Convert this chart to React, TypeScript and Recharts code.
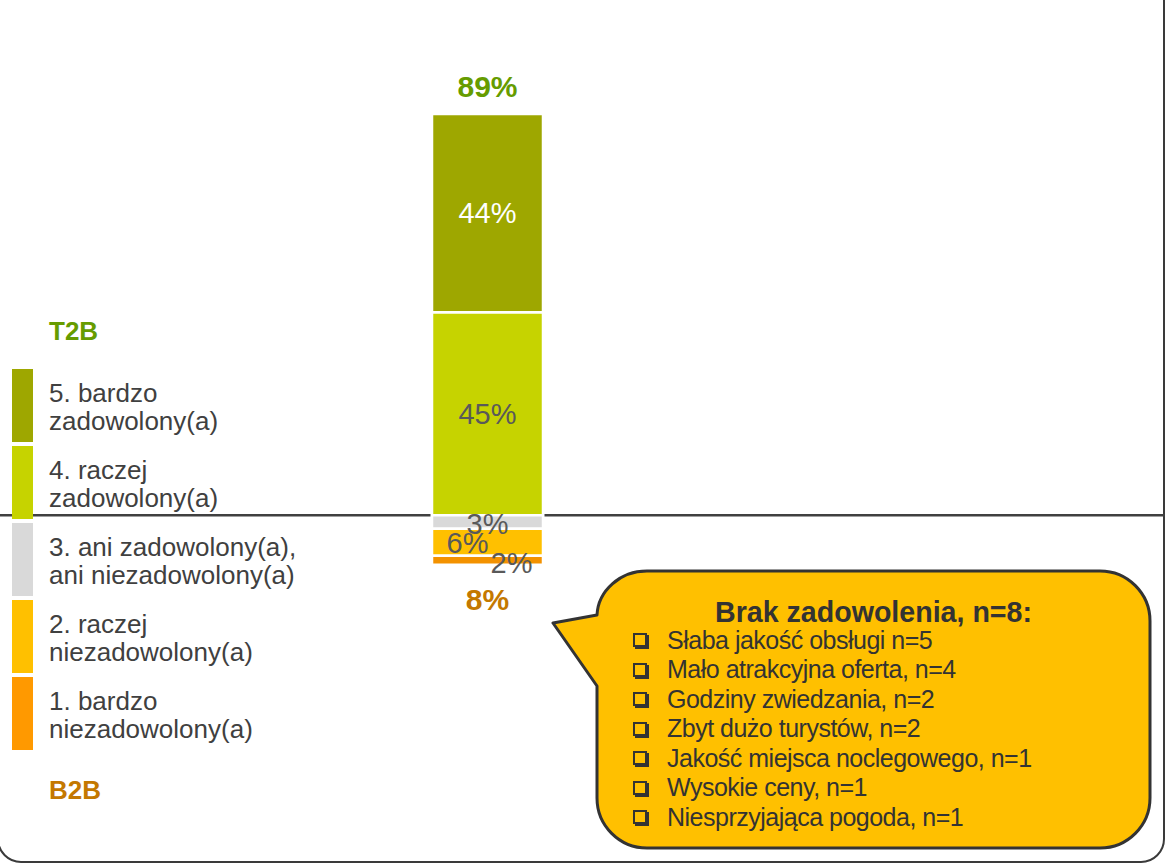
import React from "react";
import { Bar, BarChart, LabelList, Legend, ReferenceLine, XAxis, YAxis } from "recharts";

// single question, answers on a 5-point scale (in %)
const categories = ["Ocena"];
const verySatisfied = [44];
const ratherSatisfied = [45];
const neutral = [3];
const ratherDissatisfied = [6];
const veryDissatisfied = [2];

const levelNames = [
  "5. bardzo\nzadowolony(a)",
  "4. raczej\nzadowolony(a)",
  "3. ani zadowolony(a),\nani niezadowolony(a)",
  "2. raczej\nniezadowolony(a)",
  "1. bardzo\nniezadowolony(a)",
];
const levelColors = ["#9EA700", "#C6D300", "#D9D9D9", "#FFC000", "#FF9900"];

const reasonsTitle = "Brak zadowolenia, n=8:";
const reasons = [
  "Słaba jakość obsługi n=5",
  "Mało atrakcyjna oferta, n=4",
  "Godziny zwiedzania, n=2",
  "Zbyt dużo turystów, n=2",
  "Jakość miejsca noclegowego, n=1",
  "Wysokie ceny, n=1",
  "Niesprzyjająca pogoda, n=1",
];

const FONT = '"Liberation Sans", Arial, sans-serif';
const GREEN = "#669C00";
const BROWN = "#C47800";
const TEXT = "#404040";

const W = 1165;
const H = 864;
const PAD_RIGHT = 190;
const BAR_SIZE = 111;

const data = categories.map((name, i) => ({
  name,
  s5: verySatisfied[i],
  s4: ratherSatisfied[i],
  s3: -neutral[i],
  s2: -ratherDissatisfied[i],
  s1: -veryDissatisfied[i],
}));

function box(props: any) {
  const vb = props.viewBox && props.viewBox.width != null ? props.viewBox : props;
  const x = Number(vb.x);
  const y = Number(vb.y);
  const w = Number(vb.width);
  const h = Number(vb.height);
  return { cx: x + w / 2, top: Math.min(y, y + h), bottom: Math.max(y, y + h) };
}

function segLabel(values: number[], fill: string, dx = 0, dy = 0) {
  return (props: any) => {
    const { cx, top, bottom } = box(props);
    const v = values[props.index ?? 0];
    return (
      <text
        x={cx + dx}
        y={(top + bottom) / 2 + dy}
        textAnchor="middle"
        dominantBaseline="central"
        fill={fill}
        fontSize={29}
        fontFamily={FONT}
      >
        {v}%
      </text>
    );
  };
}

function TopTotal(props: any) {
  const { cx, top } = box(props);
  const i = props.index ?? 0;
  return (
    <text x={cx} y={top - 17} textAnchor="middle" fill={GREEN} fontSize={30} fontWeight="bold" fontFamily={FONT}>
      {verySatisfied[i] + ratherSatisfied[i]}%
    </text>
  );
}

function BottomTotal(props: any) {
  const { cx, bottom } = box(props);
  const i = props.index ?? 0;
  return (
    <text x={cx} y={bottom + 45} textAnchor="middle" fill={BROWN} fontSize={30} fontWeight="bold" fontFamily={FONT}>
      {ratherDissatisfied[i] + veryDissatisfied[i]}%
    </text>
  );
}

// zero line, broken where the bar (with its white outline) sits
function ZeroLine(props: any) {
  const { x1, x2, y1 } = props;
  const cx = (W - PAD_RIGHT) / 2;
  const gl = cx - BAR_SIZE / 2 - 1.5;
  const gr = cx + BAR_SIZE / 2 + 1.5;
  return (
    <g>
      <line x1={Math.min(x1, x2)} x2={gl} y1={y1} y2={y1} stroke="#404040" strokeWidth={2.5} />
      <line x1={gr} x2={Math.max(x1, x2)} y1={y1} y2={y1} stroke="#404040" strokeWidth={2.5} />
    </g>
  );
}

function LevelLegend() {
  return (
    <div style={{ fontFamily: FONT, color: TEXT, textAlign: "left" }}>
      <div style={{ marginLeft: 37, height: 30, lineHeight: "30px", fontSize: 26, fontWeight: "bold", color: GREEN }}>T2B</div>
      <div style={{ height: 23 }} />
      {levelNames.map((n, i) => (
        <div key={n} style={{ display: "flex", alignItems: "center", height: 73, marginBottom: 4 }}>
          <div style={{ width: 21, height: 73, background: levelColors[i], flexShrink: 0 }} />
          <div style={{ marginLeft: 16, marginTop: 3, fontSize: 26, lineHeight: "28px", whiteSpace: "pre-line" }}>{n}</div>
        </div>
      ))}
      <div style={{ height: 21 }} />
      <div style={{ marginLeft: 37, height: 30, lineHeight: "30px", fontSize: 26, fontWeight: "bold", color: BROWN }}>B2B</div>
    </div>
  );
}

function Callout() {
  return (
    <div style={{ position: "absolute", left: 0, top: 0, width: W, height: H, pointerEvents: "none" }}>
      <svg width={W} height={H} style={{ position: "absolute", left: 0, top: 0 }}>
        <path
          d="M647,571 L1100,571 A50,50 0 0 1 1150,621 L1150,798 A50,50 0 0 1 1100,848 L647,848 A50,50 0 0 1 597,798 L597,686 L553,623 L597,615 A50,46 0 0 1 647,571 Z"
          fill="#FFC000"
          stroke="#333333"
          strokeWidth={3}
          strokeLinejoin="round"
        />
      </svg>
      <div
        style={{
          position: "absolute",
          left: 597,
          width: 553,
          top: 595,
          textAlign: "center",
          fontFamily: FONT,
          fontWeight: "bold",
          fontSize: 28.6,
          lineHeight: "34px",
          color: "#333",
        }}
      >
        {reasonsTitle}
      </div>
      {reasons.map((r, i) => (
        <div
          key={r}
          style={{
            position: "absolute",
            left: 633,
            top: 625 + i * 29.5,
            height: 30,
            display: "flex",
            alignItems: "center",
            fontFamily: FONT,
            fontSize: 25,
            letterSpacing: -0.5,
            color: "#333",
            whiteSpace: "nowrap",
          }}
        >
          <span
            style={{
              display: "inline-block",
              width: 10,
              height: 10,
              border: "2px solid #333",
              boxShadow: "2px 2px 0 #333",
              marginRight: 20,
            }}
          />
          {r}
        </div>
      ))}
    </div>
  );
}

export default function App() {
  return (
    <div style={{ position: "absolute", left: 0, top: 0, width: W, height: H, overflow: "hidden", background: "#fff" }}>
      <div
        style={{
          position: "absolute",
          left: -3,
          top: -40,
          width: 1168,
          height: 903,
          boxSizing: "border-box",
          border: "2px solid #3a3a3a",
          borderRadius: 24,
        }}
      />
      <BarChart
        width={W}
        height={H}
        data={data}
        stackOffset="sign"
        margin={{ top: 0, right: 0, bottom: 0, left: 0 }}
        style={{ position: "absolute", left: 0, top: 0 }}
      >
        <XAxis dataKey="name" hide padding={{ left: 0, right: PAD_RIGHT }} />
        <YAxis hide domain={[-77.4, 114.3]} allowDataOverflow />
        <ReferenceLine y={0} shape={ZeroLine} />
        <Legend
          layout="horizontal"
          align="center"
          verticalAlign="middle"
          content={() => <LevelLegend />}
          wrapperStyle={{ left: 12, top: 316, width: 330 }}
        />
        <Bar dataKey="s4" stackId="a" fill={levelColors[1]} stroke="#fff" strokeWidth={2.5} barSize={BAR_SIZE} isAnimationActive={false}>
          <LabelList dataKey="s4" content={segLabel(ratherSatisfied, "#595959")} />
        </Bar>
        <Bar dataKey="s5" stackId="a" fill={levelColors[0]} stroke="#fff" strokeWidth={2.5} barSize={BAR_SIZE} isAnimationActive={false}>
          <LabelList dataKey="s5" content={segLabel(verySatisfied, "#ffffff")} />
          <LabelList dataKey="s5" content={TopTotal} />
        </Bar>
        <Bar dataKey="s3" stackId="a" fill={levelColors[2]} stroke="#fff" strokeWidth={2.5} barSize={BAR_SIZE} isAnimationActive={false}>
          <LabelList dataKey="s3" content={segLabel(neutral, "#595959", 0, 2)} />
        </Bar>
        <Bar dataKey="s2" stackId="a" fill={levelColors[3]} stroke="#fff" strokeWidth={2.5} barSize={BAR_SIZE} isAnimationActive={false}>
          <LabelList dataKey="s2" content={segLabel(ratherDissatisfied, "#595959", -20, 1)} />
        </Bar>
        <Bar dataKey="s1" stackId="a" fill="#F39200" stroke="#fff" strokeWidth={2.5} barSize={BAR_SIZE} isAnimationActive={false}>
          <LabelList dataKey="s1" content={segLabel(veryDissatisfied, "#595959", 24, 3)} />
          <LabelList dataKey="s1" content={BottomTotal} />
        </Bar>
      </BarChart>
      <Callout />
    </div>
  );
}
